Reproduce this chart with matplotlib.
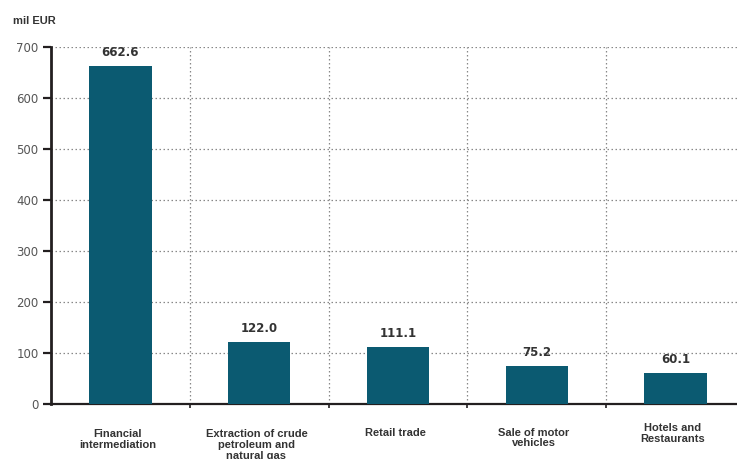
import matplotlib
matplotlib.use("Agg")
import matplotlib.pyplot as plt

# Branchen und Werte (mil EUR)
branchen = ["Financial\nintermediation",
            "Extraction of crude\npetroleum and\nnatural gas",
            "Retail trade",
            "Sale of motor\nvehicles",
            "Hotels and\nRestaurants"]
werte = [662.6, 122.0, 111.1, 75.2, 60.1]
y_ticks = [0, 100, 200, 300, 400, 500, 600, 700]

farbe = "#0b5a71"
dunkel = "#231f20"

fig = plt.figure(figsize=(7.37, 4.59), dpi=100)
# Achse läuft rechts etwas über den Bildrand hinaus
ax = fig.add_axes([51 / 737, 55 / 459, 694 / 737, 357 / 459])

x = list(range(len(werte)))
ax.bar(x, werte, width=0.45, color=farbe, zorder=3)

# Wertbeschriftung über den Balken
for xi, w in zip(x, werte):
    ax.annotate(f"{w:.1f}", (xi, w), xytext=(0, 5), textcoords="offset points",
                ha="center", va="bottom", fontsize=8.5, fontweight="bold",
                color="#333333", family="DejaVu Sans")

ax.set_xlim(-0.5, len(werte) - 0.5)
ax.set_ylim(0, 700)
ax.set_yticks(y_ticks)
ax.set_yticklabels([str(t) for t in y_ticks], fontsize=8.5, color="#555555",
                   family="DejaVu Sans")

# Trennlinien zwischen den Kategorien
grenzen = [i + 0.5 for i in range(len(werte) - 1)] + [len(werte) - 0.5]
ax.set_xticks(grenzen)
ax.set_xticklabels([])
ax.tick_params(axis="x", direction="out", length=3, width=1.2, color=dunkel)
ax.tick_params(axis="y", direction="out", length=6, width=1.6, color=dunkel, pad=3)

ax.grid(True, axis="both", color="#888888", linestyle=(0, (1.2, 2)), linewidth=0.9,
        zorder=0)

for s in ["top", "right"]:
    ax.spines[s].set_visible(False)
ax.spines["left"].set_linewidth(2)
ax.spines["left"].set_color(dunkel)
ax.spines["bottom"].set_linewidth(1.6)
ax.spines["bottom"].set_color(dunkel)

# Kategorienamen unter der Achse
oben = [-18, -18, -17, -17, -14]
trans = ax.get_xaxis_transform()
for xi, name, dy in zip(x, branchen, oben):
    ax.annotate(name, (xi, 0), xycoords=trans, xytext=(-2, dy),
                textcoords="offset points", ha="center", va="top",
                fontsize=8, fontweight="bold", color="#333333",
                family=["Liberation Sans Narrow", "Liberation Sans", "DejaVu Sans"],
                linespacing=1.1, annotation_clip=False)

fig.text(13 / 737, 1 - 24 / 459, "mil EUR", fontsize=8, fontweight="bold",
         color="#333333", family="Liberation Sans", va="baseline")

fig.savefig("out.png", dpi=100)
